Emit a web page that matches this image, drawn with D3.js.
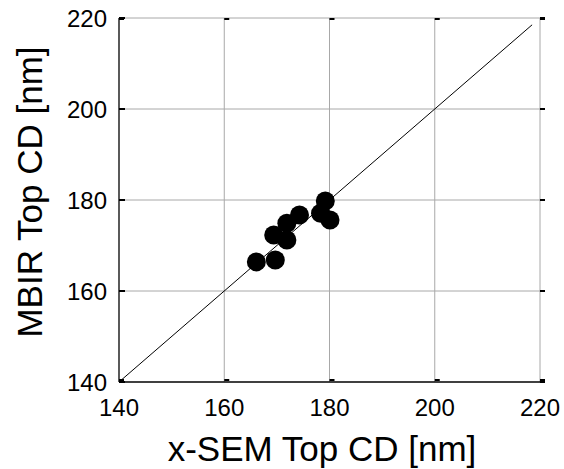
<!DOCTYPE html>
<html>
<head>
<meta charset="utf-8">
<script src="https://cdn.jsdelivr.net/npm/d3@7"></script>
<style>
  body { margin: 0; background: #fff; }
  text { font-family: "Liberation Sans", Arial, sans-serif; fill: #000; }
</style>
</head>
<body>
<svg id="chart" width="564" height="469"></svg>
<script>
var xsem = [166.1, 169.7, 169.4, 171.9, 171.9, 174.3, 179.2, 178.3, 180.1];
var mbir = [166.4, 166.8, 172.3, 171.2, 174.9, 176.7, 179.8, 177.1, 175.6];
var ticks = [140, 160, 180, 200, 220];
var lineEnds = [140, 218.5];

var svg = d3.select('#chart');
var x = d3.scaleLinear().domain([140, 220]).range([119, 540]);
var y = d3.scaleLinear().domain([140, 220]).range([382, 18]);

// grid
svg.selectAll('.gx').data(ticks.slice(1)).enter().append('line')
  .attr('x1', d => x(d)).attr('x2', d => x(d))
  .attr('y1', y(140)).attr('y2', y(220))
  .attr('stroke', '#a8a8a8').attr('stroke-width', 1);
svg.selectAll('.gy').data(ticks.slice(1)).enter().append('line')
  .attr('y1', d => y(d)).attr('y2', d => y(d))
  .attr('x1', x(140)).attr('x2', x(220))
  .attr('stroke', '#a8a8a8').attr('stroke-width', 1);

// axes lines (left, bottom)
svg.append('line').attr('x1', x(140)).attr('x2', x(140)).attr('y1', y(140)).attr('y2', y(220))
  .attr('stroke', '#000').attr('stroke-width', 1.3);
svg.append('line').attr('x1', x(140)).attr('x2', x(220)).attr('y1', y(140)).attr('y2', y(140))
  .attr('stroke', '#000').attr('stroke-width', 1.3);

// tick marks
svg.selectAll('.tl').data(ticks).enter().append('rect')
  .attr('x', x(140)).attr('y', d => y(d) - 1).attr('width', 6).attr('height', 2).attr('fill', '#000');
svg.selectAll('.tr').data(ticks).enter().append('rect')
  .attr('x', x(220)).attr('y', d => y(d) - 1).attr('width', 5).attr('height', 2).attr('fill', '#000');
svg.selectAll('.tt').data(ticks).enter().append('rect')
  .attr('x', d => x(d)).attr('y', y(220)).attr('width', 5).attr('height', 2).attr('fill', '#000');
svg.selectAll('.tb').data(ticks).enter().append('rect')
  .attr('x', d => x(d)).attr('y', y(140) - 3).attr('width', 5).attr('height', 2).attr('fill', '#000');

// tick labels
svg.selectAll('.lx').data(ticks).enter().append('text')
  .attr('x', d => x(d)).attr('y', 416)
  .attr('text-anchor', 'middle').attr('font-size', 24)
  .text(d => d);
svg.selectAll('.ly').data(ticks).enter().append('text')
  .attr('x', 107).attr('y', d => y(d) + 8.5)
  .attr('text-anchor', 'end').attr('font-size', 24)
  .text(d => d);

// identity line
svg.append('line')
  .attr('x1', x(lineEnds[0])).attr('y1', y(lineEnds[0]))
  .attr('x2', x(lineEnds[1])).attr('y2', y(lineEnds[1]))
  .attr('stroke', '#000').attr('stroke-width', 1);

// points
svg.selectAll('.pt').data(xsem).enter().append('circle')
  .attr('cx', d => x(d))
  .attr('cy', (d, i) => y(mbir[i]))
  .attr('r', 9.5)
  .attr('fill', '#000');

// titles
svg.append('text')
  .attr('x', 322).attr('y', 461)
  .attr('text-anchor', 'middle').attr('font-size', 35)
  .text('x-SEM Top CD [nm]');
svg.append('text')
  .attr('transform', 'translate(42,192) rotate(-90)')
  .attr('text-anchor', 'middle').attr('font-size', 35)
  .text('MBIR Top CD [nm]');
</script>
</body>
</html>
